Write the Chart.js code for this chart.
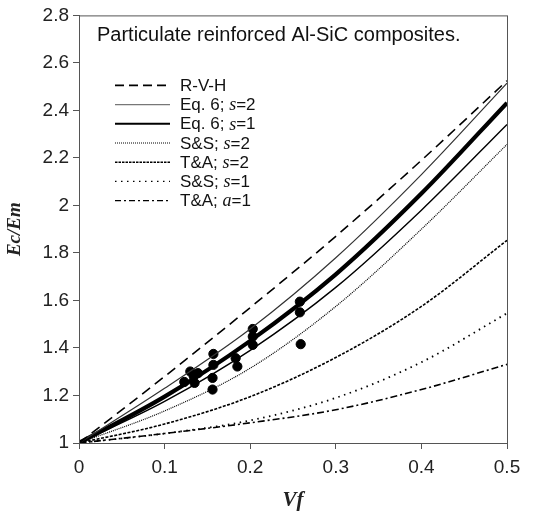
<!DOCTYPE html>
<html>
<head>
<meta charset="utf-8">
<script src="https://cdn.jsdelivr.net/npm/chart.js@4"></script>
<style>
  html, body { margin: 0; padding: 0; background: #fff; }
  #wrap { width: 534px; height: 517px; }
</style>
</head>
<body>
<div id="wrap"><canvas id="modulusChart"></canvas></div>
<script>
// Volume fraction where each model curve was sampled
const vf = [0, 0.1, 0.2, 0.3, 0.4, 0.5];

// Model curves, Ec/Em
const rvh      = [1, 1.28, 1.57, 1.87, 2.19, 2.525];
const eq6s2    = [1, 1.23, 1.48, 1.78, 2.13, 2.515];
const eq6s1    = [1, 1.195, 1.43, 1.71, 2.05, 2.432];
const eq6s2Low = [1, 1.175, 1.39, 1.655, 1.98, 2.341];
const ssS2     = [1, 1.135, 1.315, 1.575, 1.9, 2.257];
const taS2     = [1, 1.08, 1.195, 1.36, 1.575, 1.853];
const ssS1     = [1, 1.04, 1.095, 1.19, 1.34, 1.546];
const taA1     = [1, 1.04, 1.085, 1.14, 1.225, 1.331];

// Measured Al-SiC data
const expVf    = [0.203, 0.203, 0.203, 0.258, 0.258, 0.259, 0.157, 0.183, 0.185, 0.157, 0.13, 0.139, 0.134, 0.123, 0.135, 0.156, 0.156];
const expRatio = [1.48, 1.448, 1.413, 1.595, 1.55, 1.416, 1.375, 1.357, 1.322, 1.329, 1.301, 1.294, 1.281, 1.257, 1.253, 1.274, 1.225];

// Tick labels
const xTickLabels = ["0", "0.1", "0.2", "0.3", "0.4", "0.5"];
const yTickLabels = ["1", "1.2", "1.4", "1.6", "1.8", "2", "2.2", "2.4", "2.6", "2.8"];

const toPoints = (ys) => ys.map((y, i) => ({ x: vf[i], y: y }));

function curve(label, ys, width, dash, color) {
    return {
        label: label,
        data: toPoints(ys),
        borderColor: color || "#000",
        borderWidth: width,
        borderDash: dash,
        pointRadius: 0,
        fill: false,
        cubicInterpolationMode: "monotone"
    };
}

const datasets = [
    curve("R-V-H", rvh, 1.6, [10, 6]),
    curve("Eq. 6; s=2", eq6s2, 1.2, [], "#333"),
    curve("Eq. 6; s=1", eq6s1, 4.2, []),
    curve("Eq. 6; s=2 (lower)", eq6s2Low, 1.4, []),
    curve("S&S; s=2", ssS2, 1.2, [1, 1]),
    curve("T&A; s=2", taS2, 1.6, [3, 1.5]),
    curve("S&S; s=1", ssS1, 1.8, [1.5, 4.5]),
    curve("T&A; a=1", taA1, 1.6, [7, 3, 2, 3]),
    {
        type: "scatter",
        label: "Experiment",
        data: expVf.map((x, i) => ({ x: x, y: expRatio[i] })),
        pointRadius: 4.6,
        pointBackgroundColor: "#000",
        pointBorderColor: "#000",
        showLine: false
    }
];

// Legend rows: text pieces, italic pieces use a serif face
const legendRows = [
    { parts: [["R-V-H", false]], width: 1.6, dash: [9, 5], color: "#000" },
    { parts: [["Eq. 6; ", false], ["s", true], ["=2", false]], width: 1.4, dash: [], color: "#777" },
    { parts: [["Eq. 6; ", false], ["s", true], ["=1", false]], width: 2, dash: [], color: "#000" },
    { parts: [["S&S; ", false], ["s", true], ["=2", false]], width: 1, dash: [1, 1], color: "#000" },
    { parts: [["T&A; ", false], ["s", true], ["=2", false]], width: 1.4, dash: [2.5, 1], color: "#000" },
    { parts: [["S&S; ", false], ["s", true], ["=1", false]], width: 1.3, dash: [1.5, 4.5], color: "#000" },
    { parts: [["T&A; ", false], ["a", true], ["=1", false]], width: 1.4, dash: [6, 3, 2, 3], color: "#000" }
];

const captionFont = "20px 'Liberation Sans', Arial, sans-serif";
const sansFont = "17px 'Liberation Sans', Arial, sans-serif";
const italicFont = "italic 18px 'Liberation Serif', 'Times New Roman', serif";

const overlayPlugin = {
    id: "overlay",
    afterDraw(chart) {
        const ctx = chart.ctx;
        const area = chart.chartArea;
        ctx.save();

        // Frame on top and right
        ctx.strokeStyle = "#555";
        ctx.lineWidth = 1;
        ctx.strokeRect(area.left + 0.5, area.top + 0.5, area.right - area.left, area.bottom - area.top);

        // Caption
        ctx.fillStyle = "#111";
        ctx.textBaseline = "middle";
        ctx.font = captionFont;
        ctx.fillText("Particulate reinforced Al-SiC composites.", area.left + 18, area.top + 20);

        // Legend
        const lineX0 = area.left + 36;
        const lineX1 = area.left + 91;
        const textX = area.left + 101;
        let y = area.top + 70;
        legendRows.forEach((row) => {
            ctx.beginPath();
            ctx.setLineDash(row.dash);
            ctx.lineWidth = row.width;
            ctx.strokeStyle = row.color;
            ctx.moveTo(lineX0, y);
            ctx.lineTo(lineX1, y);
            ctx.stroke();
            ctx.setLineDash([]);

            let x = textX;
            row.parts.forEach(([txt, italic]) => {
                ctx.font = italic ? italicFont : sansFont;
                ctx.fillText(txt, x, y + 1);
                x += ctx.measureText(txt).width;
            });
            y += 19.2;
        });
        ctx.restore();
    }
};

new Chart(document.getElementById("modulusChart"), {
    type: "line",
    data: { datasets: datasets },
    options: {
        responsive: true,
        maintainAspectRatio: false,
        animation: false,
        layout: { padding: { top: 12, right: 27, left: 0, bottom: 0 } },
        plugins: {
            legend: { display: false },
            tooltip: { enabled: false }
        },
        scales: {
            x: {
                type: "linear",
                min: 0,
                max: 0.5,
                afterFit: (scale) => { scale.height = 74; },
                afterBuildTicks: (scale) => {
                    scale.ticks = xTickLabels.map((t) => ({ value: parseFloat(t) }));
                },
                ticks: {
                    callback: (value, i) => xTickLabels[i],
                    color: "#222",
                    padding: 7,
                    maxRotation: 0,
                    font: { family: "'Liberation Sans', Arial, sans-serif", size: 19 }
                },
                grid: { drawOnChartArea: false, drawTicks: true, tickLength: 6, color: "#555" },
                border: { display: true, color: "#555" },
                title: {
                    display: true,
                    text: "Vf",
                    color: "#222",
                    padding: { top: 0 },
                    font: { family: "'Liberation Serif', 'Times New Roman', serif", size: 21, style: "italic", weight: "bold" }
                }
            },
            y: {
                min: 1,
                max: 2.8,
                afterFit: (scale) => { scale.width = 79; },
                afterBuildTicks: (scale) => {
                    scale.ticks = yTickLabels.map((t) => ({ value: parseFloat(t) }));
                },
                ticks: {
                    callback: (value, i) => yTickLabels[i],
                    color: "#222",
                    padding: 4,
                    font: { family: "'Liberation Sans', Arial, sans-serif", size: 19 }
                },
                grid: { drawOnChartArea: false, drawTicks: true, tickLength: 6, color: "#555" },
                border: { display: true, color: "#555" },
                title: {
                    display: true,
                    text: "Ec/Em",
                    color: "#222",
                    padding: { bottom: 0 },
                    font: { family: "'Liberation Serif', 'Times New Roman', serif", size: 19, style: "italic", weight: "bold" }
                }
            }
        }
    },
    plugins: [overlayPlugin]
});
</script>
</body>
</html>
